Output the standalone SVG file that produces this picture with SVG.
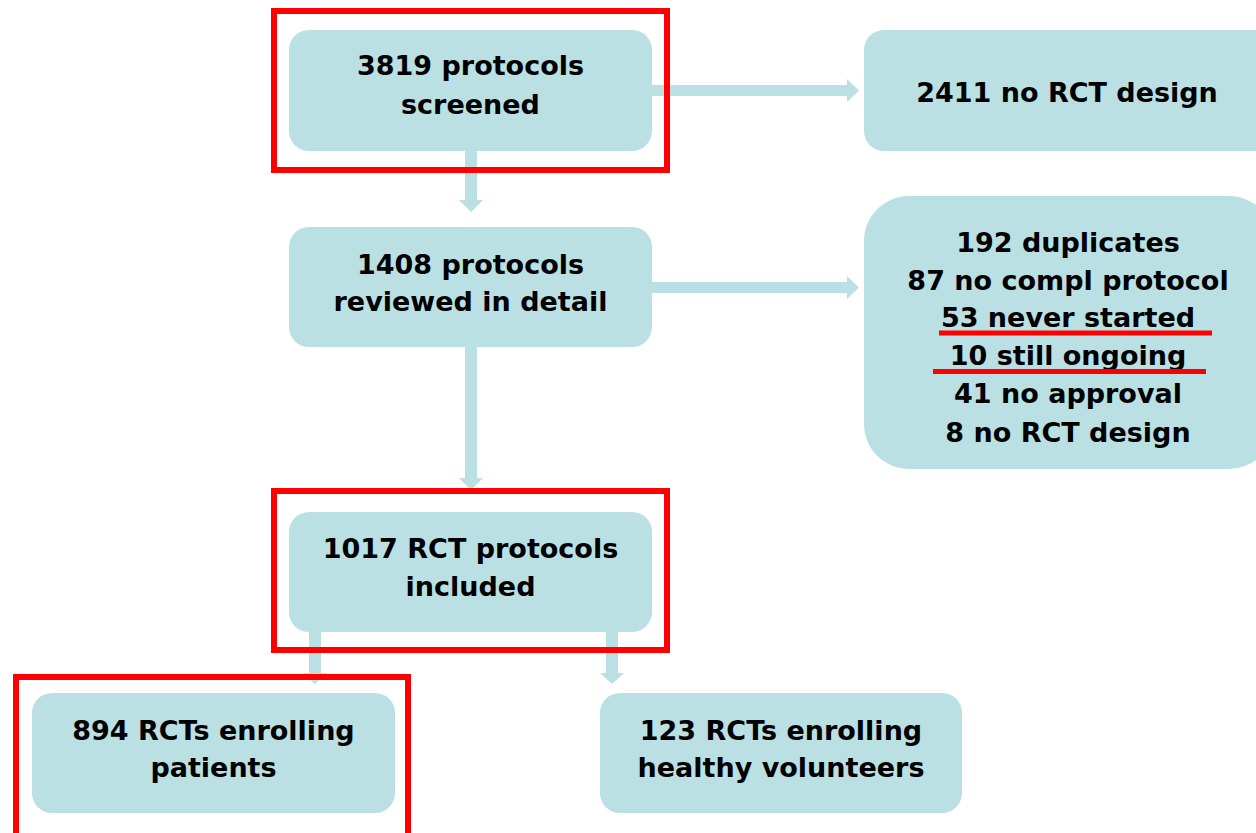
<svg xmlns="http://www.w3.org/2000/svg" width="1256" height="833" viewBox="0 0 1256 833">
<style>
.box{fill:#bbe0e3}
.arr{fill:#bbe0e3}
.hl{fill:none;stroke:#ff0000;stroke-width:6}
.ul{stroke:#ff0000;stroke-width:5}
text{font-family:"DejaVu Sans","Liberation Sans",sans-serif;font-weight:bold;font-size:27px;fill:#000;text-anchor:middle}
</style>
<rect width="1256" height="833" fill="#fff"/>
<g id="connectors">
<polygon class="arr" points="651,85 847,85 847,79 859,90.5 847,102 847,96 651,96"/>
<polygon class="arr" points="651,282 847,282 847,276 859,287.5 847,299 847,293 651,293"/>
<polygon class="arr" points="465,151 477,151 477,200 483,200 471,212 459,200 465,200"/>
<polygon class="arr" points="465,347 477,347 477,478 483,478 471,490 459,478 465,478"/>
<polygon class="arr" points="309,632 321,632 321,673 327,673 315,684 303,673 309,673"/>
<polygon class="arr" points="606,632 618,632 618,673 624,673 612,684 600,673 606,673"/>
</g>
<g id="n1"><rect class="box" x="289" y="30" width="363" height="121" rx="20"/><text x="470.5" y="75">3819 protocols</text><text x="470.5" y="114">screened</text></g>
<g id="n2411"><rect class="box" x="864" y="30" width="410" height="121" rx="20"/><text x="1067" y="102">2411 no RCT design</text></g>
<g id="n2"><rect class="box" x="289" y="227" width="363" height="120" rx="20"/><text x="470.5" y="274">1408 protocols</text><text x="470.5" y="311">reviewed in detail</text></g>
<g id="nexcl"><rect class="box" x="864" y="196" width="410" height="273" rx="45"/>
<text x="1068" y="252">192 duplicates</text>
<text x="1068" y="290">87 no compl protocol</text>
<text x="1068" y="327">53 never started</text>
<text x="1068" y="365">10 still ongoing</text>
<text x="1068" y="403">41 no approval</text>
<text x="1068" y="442">8 no RCT design</text>
<line class="ul" x1="939" y1="333" x2="1212" y2="333"/>
<line class="ul" x1="933" y1="371.5" x2="1206" y2="371.5"/>
</g>
<g id="n3"><rect class="box" x="289" y="512" width="363" height="120" rx="20"/><text x="470.5" y="558">1017 RCT protocols</text><text x="470.5" y="596">included</text></g>
<g id="n894"><rect class="box" x="32" y="693" width="363" height="120" rx="20"/><text x="213.5" y="740">894 RCTs enrolling</text><text x="213.5" y="777">patients</text></g>
<g id="n123"><rect class="box" x="600" y="693" width="362" height="120" rx="20"/><text x="781" y="740">123 RCTs enrolling</text><text x="781" y="777">healthy volunteers</text></g>
<g id="highlights">
<rect class="hl" x="274" y="11" width="393" height="159"/>
<rect class="hl" x="274" y="491" width="393" height="159"/>
<rect class="hl" x="16" y="677" width="392" height="170"/>
</g>
</svg>
